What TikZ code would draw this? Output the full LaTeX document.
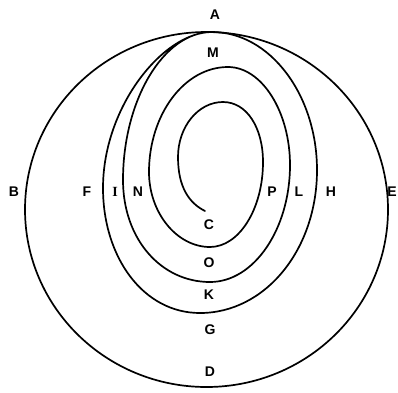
\documentclass[tikz,border=0pt]{standalone}
\usepackage{fontspec}
\setmainfont{Liberation Sans}
\newfontfamily\serifI{Liberation Serif}
\begin{document}
\begin{tikzpicture}[x=1pt,y=-1pt,
  curve/.style={line width=1.7pt,line cap=round,line join=round},
  lbl/.style={font=\fontsize{14}{14}\selectfont\bfseries,inner sep=0pt}]
\useasboundingbox (0,0) rectangle (398,392);
\def\k{0.5523}
% outer circle
\draw[curve] (206.5,209.5) ellipse [x radius=181.5, y radius=177.5];
% spiral, built from quarter-ellipse arcs between extreme points
\coordinate (S)  at (205,211);
\coordinate (L1) at (178,157);
\coordinate (T1) at (223,102);
\coordinate (R1) at (263,162);
\coordinate (B1) at (210,247);
\coordinate (L2) at (149,172);
\coordinate (T2) at (228,67);
\coordinate (R2) at (290,165);
\coordinate (B2) at (210,282);
\coordinate (L3) at (123,180);
\coordinate (T3) at (212,32);
\coordinate (R3) at (317,170);
\coordinate (B3) at (200,313);
\coordinate (L4) at (103,188);
\draw[curve] (S)
  .. controls (189,203) and (178,187) .. (L1)
  .. controls (178,127) and (198,102) .. (T1)
  .. controls (247,102) and (263,128) .. (R1)
  .. controls (263,209) and (239,247) .. (B1)
  .. controls (177,247) and (149,213) .. (L2)
  .. controls (149,115) and (184,67) .. (T2)
  .. controls (262,67) and (290,112) .. (R2)
  .. controls (290,229) and (254,282) .. (B2)
  .. controls (161,282) and (123,239) .. (L3)
  .. controls (123,101) and (163,32) .. (T3)
  .. controls (270,32) and (317,95) .. (R3)
  .. controls (317,250) and (265,313) .. (B3)
  .. controls (143,313) and (103,257) .. (L4)
  .. controls (103,107) and (163,32) .. (T3);
\node[lbl] (A) at (215,15) {A};
\node[lbl] (M) at (213,53) {M};
\node[lbl] (B) at (14,192) {B};
\node[lbl] (F) at (87,192) {F};
\node[lbl,font=\fontsize{14}{14}\selectfont\serifI\bfseries] (I) at (115,192) {I};
\node[lbl] (N) at (138,192) {N};
\node[lbl] (P) at (272,192) {P};
\node[lbl] (L) at (299,192) {L};
\node[lbl] (H) at (331,192) {H};
\node[lbl] (E) at (392,192) {E};
\node[lbl] (C) at (209,225) {C};
\node[lbl] (O) at (209,263) {O};
\node[lbl] (K) at (209,295) {K};
\node[lbl] (G) at (210,330) {G};
\node[lbl] (D) at (210,372) {D};
\end{tikzpicture}
\end{document}
